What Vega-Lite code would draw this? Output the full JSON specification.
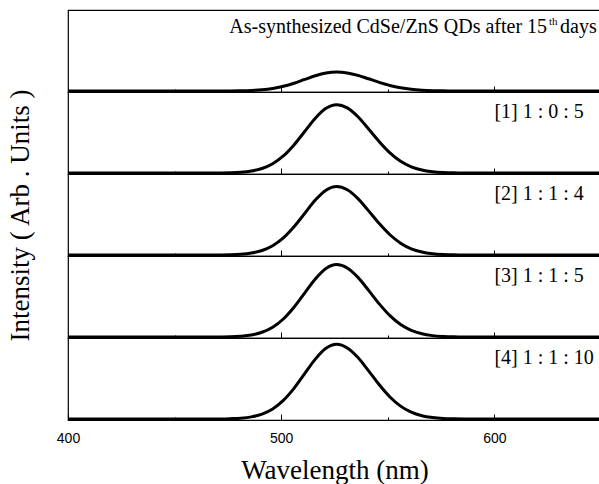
{
  "$schema": "https://vega.github.io/schema/vega-lite/v6.json",
  "padding": {"left": 5, "top": 9, "right": 0, "bottom": 5},
  "background": "white",
  "config": {
    "view": {"stroke": "black", "strokeWidth": 1.2},
    "font": "Liberation Serif",
    "text": {"font": "Liberation Serif", "fontSize": 20, "color": "black"}
  },
  "spacing": 0,
  "bounds": "flush",
  "datasets": {
    "spectra": [
      {"p":0,"w":400,"v":0.012},{"p":0,"w":450,"v":0.012},{"p":0,"w":466,"v":0.012},{"p":0,"w":471,"v":0.012},{"p":0,"w":476,"v":0.013},{"p":0,"w":481,"v":0.015},{"p":0,"w":486,"v":0.019},{"p":0,"w":491,"v":0.027},{"p":0,"w":496,"v":0.043},{"p":0,"w":501,"v":0.070},{"p":0,"w":506,"v":0.107},{"p":0,"w":511,"v":0.153},{"p":0,"w":516,"v":0.198},{"p":0,"w":521,"v":0.231},{"p":0,"w":526,"v":0.244},{"p":0,"w":531,"v":0.233},{"p":0,"w":536,"v":0.203},{"p":0,"w":541,"v":0.161},{"p":0,"w":546,"v":0.118},{"p":0,"w":551,"v":0.080},{"p":0,"w":556,"v":0.052},{"p":0,"w":561,"v":0.033},{"p":0,"w":566,"v":0.022},{"p":0,"w":571,"v":0.016},{"p":0,"w":576,"v":0.014},{"p":0,"w":581,"v":0.013},{"p":0,"w":586,"v":0.012},{"p":0,"w":600,"v":0.012},{"p":0,"w":650,"v":0.012},
      {"p":1,"w":400,"v":0.012},{"p":1,"w":450,"v":0.012},{"p":1,"w":466,"v":0.012},{"p":1,"w":471,"v":0.013},{"p":1,"w":476,"v":0.015},{"p":1,"w":481,"v":0.021},{"p":1,"w":486,"v":0.036},{"p":1,"w":491,"v":0.067},{"p":1,"w":496,"v":0.125},{"p":1,"w":501,"v":0.220},{"p":1,"w":506,"v":0.355},{"p":1,"w":511,"v":0.518},{"p":1,"w":516,"v":0.680},{"p":1,"w":521,"v":0.801},{"p":1,"w":526,"v":0.846},{"p":1,"w":531,"v":0.806},{"p":1,"w":536,"v":0.698},{"p":1,"w":541,"v":0.549},{"p":1,"w":546,"v":0.394},{"p":1,"w":551,"v":0.258},{"p":1,"w":556,"v":0.155},{"p":1,"w":561,"v":0.088},{"p":1,"w":566,"v":0.049},{"p":1,"w":571,"v":0.028},{"p":1,"w":576,"v":0.018},{"p":1,"w":581,"v":0.014},{"p":1,"w":586,"v":0.013},{"p":1,"w":600,"v":0.012},{"p":1,"w":650,"v":0.012},
      {"p":2,"w":400,"v":0.012},{"p":2,"w":450,"v":0.012},{"p":2,"w":466,"v":0.012},{"p":2,"w":471,"v":0.013},{"p":2,"w":476,"v":0.015},{"p":2,"w":481,"v":0.021},{"p":2,"w":486,"v":0.036},{"p":2,"w":491,"v":0.067},{"p":2,"w":496,"v":0.125},{"p":2,"w":501,"v":0.220},{"p":2,"w":506,"v":0.356},{"p":2,"w":511,"v":0.519},{"p":2,"w":516,"v":0.682},{"p":2,"w":521,"v":0.803},{"p":2,"w":526,"v":0.848},{"p":2,"w":531,"v":0.808},{"p":2,"w":536,"v":0.700},{"p":2,"w":541,"v":0.550},{"p":2,"w":546,"v":0.395},{"p":2,"w":551,"v":0.259},{"p":2,"w":556,"v":0.156},{"p":2,"w":561,"v":0.088},{"p":2,"w":566,"v":0.049},{"p":2,"w":571,"v":0.028},{"p":2,"w":576,"v":0.018},{"p":2,"w":581,"v":0.014},{"p":2,"w":586,"v":0.013},{"p":2,"w":600,"v":0.012},{"p":2,"w":650,"v":0.012},
      {"p":3,"w":400,"v":0.012},{"p":3,"w":450,"v":0.012},{"p":3,"w":466,"v":0.012},{"p":3,"w":471,"v":0.013},{"p":3,"w":476,"v":0.015},{"p":3,"w":481,"v":0.022},{"p":3,"w":486,"v":0.037},{"p":3,"w":491,"v":0.070},{"p":3,"w":496,"v":0.131},{"p":3,"w":501,"v":0.232},{"p":3,"w":506,"v":0.375},{"p":3,"w":511,"v":0.548},{"p":3,"w":516,"v":0.719},{"p":3,"w":521,"v":0.847},{"p":3,"w":526,"v":0.895},{"p":3,"w":531,"v":0.853},{"p":3,"w":536,"v":0.739},{"p":3,"w":541,"v":0.581},{"p":3,"w":546,"v":0.416},{"p":3,"w":551,"v":0.272},{"p":3,"w":556,"v":0.164},{"p":3,"w":561,"v":0.093},{"p":3,"w":566,"v":0.051},{"p":3,"w":571,"v":0.029},{"p":3,"w":576,"v":0.019},{"p":3,"w":581,"v":0.014},{"p":3,"w":586,"v":0.013},{"p":3,"w":600,"v":0.012},{"p":3,"w":650,"v":0.012},
      {"p":4,"w":400,"v":0.012},{"p":4,"w":450,"v":0.012},{"p":4,"w":466,"v":0.012},{"p":4,"w":471,"v":0.013},{"p":4,"w":476,"v":0.016},{"p":4,"w":481,"v":0.022},{"p":4,"w":486,"v":0.038},{"p":4,"w":491,"v":0.072},{"p":4,"w":496,"v":0.135},{"p":4,"w":501,"v":0.239},{"p":4,"w":506,"v":0.386},{"p":4,"w":511,"v":0.565},{"p":4,"w":516,"v":0.742},{"p":4,"w":521,"v":0.874},{"p":4,"w":526,"v":0.923},{"p":4,"w":531,"v":0.879},{"p":4,"w":536,"v":0.762},{"p":4,"w":541,"v":0.599},{"p":4,"w":546,"v":0.429},{"p":4,"w":551,"v":0.281},{"p":4,"w":556,"v":0.169},{"p":4,"w":561,"v":0.095},{"p":4,"w":566,"v":0.052},{"p":4,"w":571,"v":0.030},{"p":4,"w":576,"v":0.019},{"p":4,"w":581,"v":0.015},{"p":4,"w":586,"v":0.013},{"p":4,"w":600,"v":0.012},{"p":4,"w":650,"v":0.012}
    ],
    "labels": [
      {"p":1,"label":"[1] 1 : 0 : 5"},
      {"p":2,"label":"[2] 1 : 1 : 4"},
      {"p":3,"label":"[3] 1 : 1 : 5"},
      {"p":4,"label":"[4] 1 : 1 : 10"}
    ],
    "titleparts": [
      {"part":"main","label":"As-synthesized CdSe/ZnS QDs after 15"},
      {"part":"sup","label":"th"},
      {"part":"end","label":"days"}
    ]
  },
  "vconcat": [
    {
      "width": 533, "height": 82,
      "layer": [
        {
          "data": {"name": "spectra"},
          "transform": [{"filter": "datum.p == 0"}],
          "mark": {"type": "line", "color": "black", "strokeWidth": 3, "interpolate": "monotone"},
          "encoding": {
            "x": {"field": "w", "type": "quantitative", "scale": {"domain": [400, 650], "nice": false, "zero": false},
                  "axis": {"title": null, "labels": false, "domain": false, "grid": false, "values": [450, 500, 550, 600], "tickColor": "black", "tickWidth": 1, "tickSize": {"condition": {"test": "datum.value % 100 === 0", "value": -6}, "value": -3}}},
            "y": {"field": "v", "type": "quantitative", "scale": {"domain": [0, 1], "nice": false},
                  "axis": {"title": null, "labels": false, "ticks": false, "domain": false, "grid": false}}
          }
        },
        {
          "data": {"name": "titleparts"},
          "transform": [{"filter": "datum.part == 'main'"}],
          "mark": {"type": "text", "align": "right", "baseline": "alphabetic"},
          "encoding": {"x": {"datum": 624.7}, "y": {"datum": 0.715}, "text": {"field": "label"}}
        },
        {
          "data": {"name": "titleparts"},
          "transform": [{"filter": "datum.part == 'sup'"}],
          "mark": {"type": "text", "align": "left", "baseline": "alphabetic", "fontSize": 11, "dy": -8},
          "encoding": {"x": {"datum": 625.6}, "y": {"datum": 0.715}, "text": {"field": "label"}}
        },
        {
          "data": {"name": "titleparts"},
          "transform": [{"filter": "datum.part == 'end'"}],
          "mark": {"type": "text", "align": "left", "baseline": "alphabetic"},
          "encoding": {"x": {"datum": 630.8}, "y": {"datum": 0.715}, "text": {"field": "label"}}
        }
      ]
    },
    {
      "width": 533, "height": 82,
      "layer": [
        {
          "data": {"name": "spectra"},
          "transform": [{"filter": "datum.p == 1"}],
          "mark": {"type": "line", "color": "black", "strokeWidth": 3, "interpolate": "monotone"},
          "encoding": {
            "x": {"field": "w", "type": "quantitative", "scale": {"domain": [400, 650], "nice": false, "zero": false},
                  "axis": {"title": null, "labels": false, "domain": false, "grid": false, "values": [450, 500, 550, 600], "tickColor": "black", "tickWidth": 1, "tickSize": {"condition": {"test": "datum.value % 100 === 0", "value": -6}, "value": -3}}},
            "y": {"field": "v", "type": "quantitative", "scale": {"domain": [0, 1], "nice": false},
                  "axis": {"title": null, "labels": false, "ticks": false, "domain": false, "grid": false}}
          }
        },
        {
          "data": {"name": "labels"},
          "transform": [{"filter": "datum.p == 1"}],
          "mark": {"type": "text", "align": "left", "baseline": "alphabetic"},
          "encoding": {"x": {"datum": 600}, "y": {"datum": 0.689}, "text": {"field": "label"}}
        }
      ]
    },
    {
      "width": 533, "height": 82,
      "layer": [
        {
          "data": {"name": "spectra"},
          "transform": [{"filter": "datum.p == 2"}],
          "mark": {"type": "line", "color": "black", "strokeWidth": 3, "interpolate": "monotone"},
          "encoding": {
            "x": {"field": "w", "type": "quantitative", "scale": {"domain": [400, 650], "nice": false, "zero": false},
                  "axis": {"title": null, "labels": false, "domain": false, "grid": false, "values": [450, 500, 550, 600], "tickColor": "black", "tickWidth": 1, "tickSize": {"condition": {"test": "datum.value % 100 === 0", "value": -6}, "value": -3}}},
            "y": {"field": "v", "type": "quantitative", "scale": {"domain": [0, 1], "nice": false},
                  "axis": {"title": "Intensity ( Arb . Units )", "titleFont": "Liberation Serif", "titleFontSize": 27, "titleFontWeight": "normal", "titleColor": "black", "titlePadding": 34, "labels": false, "ticks": false, "domain": false, "grid": false}}
          }
        },
        {
          "data": {"name": "labels"},
          "transform": [{"filter": "datum.p == 2"}],
          "mark": {"type": "text", "align": "left", "baseline": "alphabetic"},
          "encoding": {"x": {"datum": 600}, "y": {"datum": 0.689}, "text": {"field": "label"}}
        }
      ]
    },
    {
      "width": 533, "height": 82,
      "layer": [
        {
          "data": {"name": "spectra"},
          "transform": [{"filter": "datum.p == 3"}],
          "mark": {"type": "line", "color": "black", "strokeWidth": 3, "interpolate": "monotone"},
          "encoding": {
            "x": {"field": "w", "type": "quantitative", "scale": {"domain": [400, 650], "nice": false, "zero": false},
                  "axis": {"title": null, "labels": false, "domain": false, "grid": false, "values": [450, 500, 550, 600], "tickColor": "black", "tickWidth": 1, "tickSize": {"condition": {"test": "datum.value % 100 === 0", "value": -6}, "value": -3}}},
            "y": {"field": "v", "type": "quantitative", "scale": {"domain": [0, 1], "nice": false},
                  "axis": {"title": null, "labels": false, "ticks": false, "domain": false, "grid": false}}
          }
        },
        {
          "data": {"name": "labels"},
          "transform": [{"filter": "datum.p == 3"}],
          "mark": {"type": "text", "align": "left", "baseline": "alphabetic"},
          "encoding": {"x": {"datum": 600}, "y": {"datum": 0.689}, "text": {"field": "label"}}
        }
      ]
    },
    {
      "width": 533, "height": 82,
      "layer": [
        {
          "data": {"name": "spectra"},
          "transform": [{"filter": "datum.p == 4"}],
          "mark": {"type": "line", "color": "black", "strokeWidth": 3, "interpolate": "monotone"},
          "encoding": {
            "x": {"field": "w", "type": "quantitative", "scale": {"domain": [400, 650], "nice": false, "zero": false},
                  "axis": {"title": "Wavelength (nm)", "titleFont": "Liberation Serif", "titleFontSize": 27, "titleFontWeight": "normal", "titleColor": "black", "titlePadding": 12,
                           "labelFont": "Liberation Sans", "labelFontSize": 14, "labelColor": "black", "labelFlush": false, "labelPadding": 17,
                           "labelExpr": "datum.value % 100 === 0 ? datum.label : ''",
                           "domain": false, "grid": false, "values": [400, 450, 500, 550, 600], "tickColor": "black", "tickWidth": 1, "tickSize": {"condition": {"test": "datum.value % 100 === 0", "value": -6}, "value": -3}}},
            "y": {"field": "v", "type": "quantitative", "scale": {"domain": [0, 1], "nice": false},
                  "axis": {"title": null, "labels": false, "ticks": false, "domain": false, "grid": false}}
          }
        },
        {
          "data": {"name": "labels"},
          "transform": [{"filter": "datum.p == 4"}],
          "mark": {"type": "text", "align": "left", "baseline": "alphabetic"},
          "encoding": {"x": {"datum": 600}, "y": {"datum": 0.689}, "text": {"field": "label"}}
        }
      ]
    }
  ]
}
